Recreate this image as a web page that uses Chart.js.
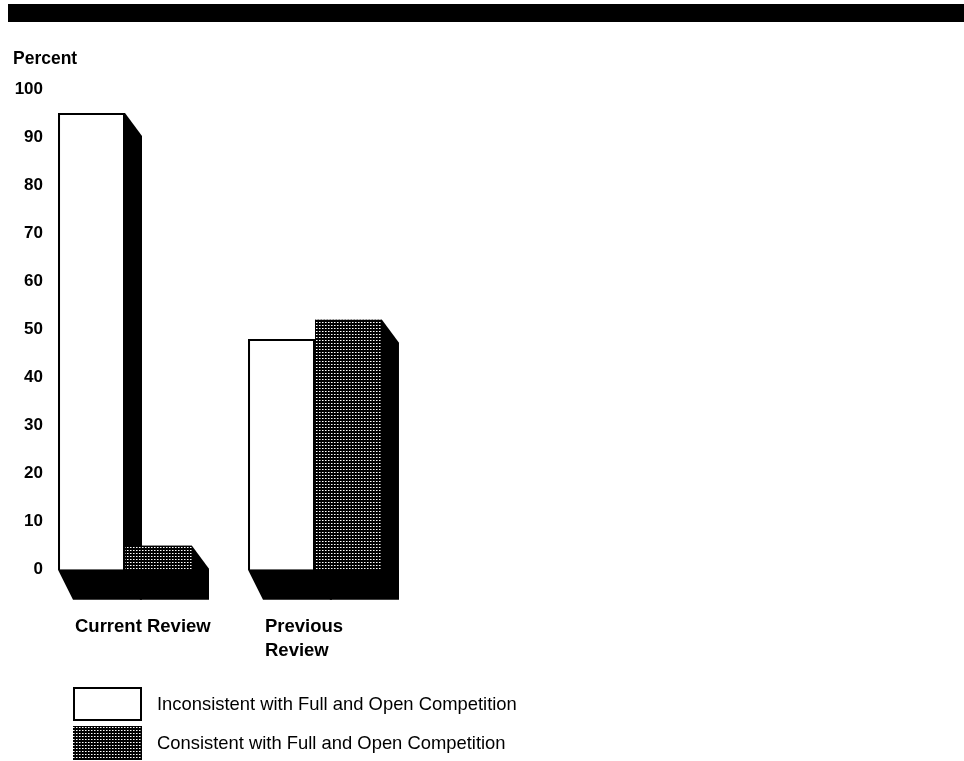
<!DOCTYPE html>
<html>
<head>
<meta charset="utf-8">
<script src="https://cdn.jsdelivr.net/npm/chart.js@4"></script>
<style>
  html, body { margin: 0; padding: 0; background: #fff; }
  #wrap { position: relative; width: 964px; height: 761px; }
  #band { position: absolute; left: 8px; top: 4px; width: 956px; height: 18px; background: #000; }
</style>
</head>
<body>
<div id="wrap">
  <div id="band"></div>
  <canvas id="myChart" width="964" height="761"></canvas>
</div>
<script>
const labels = ['Current Review', ['Previous', 'Review']];
const inconsistent = [95, 48];
const consistent = [5, 52];
const seriesNames = [
  'Inconsistent with Full and Open Competition',
  'Consistent with Full and Open Competition'
];
const yTicks = [0, 10, 20, 30, 40, 50, 60, 70, 80, 90, 100];

// dark stipple fill like the printed halftone
function makeDots() {
  const c = document.createElement('canvas');
  c.width = 3; c.height = 3;
  const g = c.getContext('2d');
  g.fillStyle = '#000';
  g.fillRect(0, 0, 3, 3);
  g.fillStyle = '#fff';
  g.fillRect(1, 1, 1, 1);
  g.fillStyle = '#888';
  g.fillRect(2, 1, 1, 1);
  return g.createPattern(c, 'repeat');
}
const dots = makeDots();

// black extruded side + bottom behind every bar
const shadow3d = {
  id: 'shadow3d',
  afterLayout(chart) {
    // tick labels hang a bit into the plot, don't clip them to the axis box
    chart.scales.y._computeLabelArea = () => undefined;
  },
  beforeDatasetsDraw(chart) {
    const ctx = chart.ctx;
    ctx.save();
    ctx.fillStyle = '#000';
    chart.data.datasets.forEach((ds, i) => {
      chart.getDatasetMeta(i).data.forEach(bar => {
        const x1 = bar.x - bar.width / 2;
        const x2 = bar.x + bar.width / 2;
        ctx.beginPath();
        ctx.moveTo(x1, bar.y);
        ctx.lineTo(x2, bar.y);
        ctx.lineTo(x2 + 17, bar.y + 23);
        ctx.lineTo(x2 + 17, bar.base + 30);
        ctx.lineTo(x1 + 15, bar.base + 30);
        ctx.lineTo(x1, bar.base);
        ctx.closePath();
        ctx.fill();
      });
    });
    ctx.restore();
  }
};

// legend boxes stacked under the chart
const boxLegend = {
  id: 'boxLegend',
  afterDraw(chart) {
    const ctx = chart.ctx;
    ctx.save();
    chart.data.datasets.forEach((ds, i) => {
      const top = 687 + i * 39;
      ctx.fillStyle = ds.backgroundColor;
      ctx.fillRect(73, top, 69, 34);
      if (i === 0) {
        ctx.strokeStyle = '#000';
        ctx.lineWidth = 2;
        ctx.strokeRect(74, top + 1, 67, 32);
      }
      ctx.fillStyle = '#000';
      ctx.font = '18.4px "Liberation Sans", Arial, sans-serif';
      ctx.textBaseline = 'middle';
      ctx.textAlign = 'left';
      ctx.fillText(ds.label, 157, top + 18);
    });
    ctx.restore();
  }
};

const data = {
  labels: labels,
  datasets: [{
    label: seriesNames[0],
    data: inconsistent,
    backgroundColor: '#fff',
    borderColor: '#000',
    borderWidth: 2
  }, {
    label: seriesNames[1],
    data: consistent,
    backgroundColor: dots,
    borderWidth: 0
  }]
};

const config = {
  type: 'bar',
  data: data,
  plugins: [shadow3d, boxLegend],
  options: {
    responsive: false,
    animation: false,
    events: [],
    layout: { padding: { left: 13, right: 554, top: 0, bottom: 53 } },
    datasets: {
      bar: { categoryPercentage: 0.705, barPercentage: 1 }
    },
    plugins: {
      legend: { display: false },
      tooltip: { enabled: false },
      title: {
        display: true,
        text: 'Percent',
        align: 'start',
        color: '#000',
        font: { family: '"Liberation Sans", Arial, sans-serif', size: 17.5, weight: 'bold' },
        padding: { top: 49, bottom: 19 }
      }
    },
    scales: {
      x: {
        grid: { display: false, drawTicks: false },
        border: { display: false },
        ticks: {
          color: '#000',
          align: 'start',
          labelOffset: -50,
          padding: 46,
          maxRotation: 0,
          font: { family: '"Liberation Sans", Arial, sans-serif', size: 18.5, weight: 'bold', lineHeight: 1.25 }
        }
      },
      y: {
        min: 0,
        max: 100,
        grid: { display: false, drawTicks: false },
        border: { display: false },
        afterFit: (scale) => { scale.width = 17; },
        afterBuildTicks: (scale) => { scale.ticks = yTicks.map(v => ({ value: v })); },
        ticks: {
          color: '#000',
          padding: -13,
          font: { family: '"Liberation Sans", Arial, sans-serif', size: 17, weight: 'bold' }
        }
      }
    }
  }
};

const ctx = document.getElementById('myChart');
const myChart = new Chart(ctx, config);
</script>
</body>
</html>
